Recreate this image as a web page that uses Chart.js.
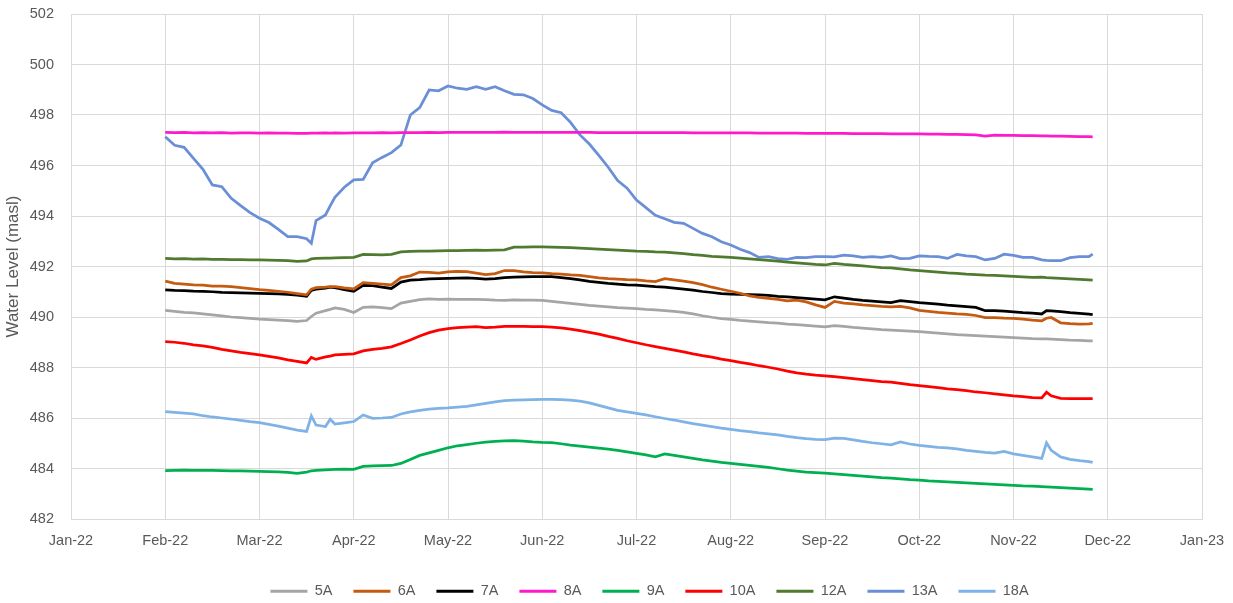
<!DOCTYPE html>
<html>
<head>
<meta charset="utf-8">
<script src="https://cdn.jsdelivr.net/npm/chart.js@4/dist/chart.umd.min.js"></script>
<style>
  body { margin: 0; background: #ffffff; }
</style>
</head>
<body>
<canvas id="levelChart" width="1233" height="603"></canvas>
<script>
// month index on the x axis: 0 = Jan-22 ... 12 = Jan-23
const monthLabels = ["Jan-22", "Feb-22", "Mar-22", "Apr-22", "May-22", "Jun-22", "Jul-22",
                     "Aug-22", "Sep-22", "Oct-22", "Nov-22", "Dec-22", "Jan-23"];

const monthPos = [
  1.0, 1.1, 1.2, 1.3, 1.4, 1.5, 1.6, 1.7, 1.8, 1.9,
  2.0, 2.1, 2.2, 2.3, 2.4, 2.5, 2.55, 2.6, 2.7, 2.75, 2.8, 2.9,
  3.0, 3.1, 3.2, 3.3, 3.4, 3.5, 3.6, 3.7, 3.8, 3.9,
  4.0, 4.1, 4.2, 4.3, 4.4, 4.5, 4.6, 4.7, 4.8, 4.9,
  5.0, 5.1, 5.2, 5.3, 5.4, 5.5, 5.6, 5.7, 5.8, 5.9,
  6.0, 6.1, 6.2, 6.3, 6.4, 6.5, 6.6, 6.7, 6.8, 6.9,
  7.0, 7.1, 7.2, 7.3, 7.4, 7.5, 7.6, 7.7, 7.8, 7.9,
  8.0, 8.1, 8.2, 8.3, 8.4, 8.5, 8.6, 8.7, 8.8, 8.9,
  9.0, 9.1, 9.2, 9.3, 9.4, 9.5, 9.6, 9.7, 9.8, 9.9,
  10.0, 10.1, 10.2, 10.3, 10.35, 10.4, 10.5, 10.6, 10.7, 10.8, 10.84
];

const wl5A = [
  490.26, 490.22, 490.18, 490.16, 490.12, 490.08, 490.04, 490.00, 489.98, 489.95,
  489.92, 489.90, 489.88, 489.86, 489.83, 489.86, 490.02, 490.15, 490.25, 490.30, 490.36, 490.30,
  490.18, 490.38, 490.40, 490.37, 490.33, 490.55, 490.62, 490.69, 490.72, 490.70,
  490.71, 490.70, 490.70, 490.70, 490.69, 490.67, 490.66, 490.68, 490.67, 490.67,
  490.66, 490.62, 490.58, 490.54, 490.50, 490.46, 490.43, 490.40, 490.37, 490.35,
  490.33, 490.30, 490.28, 490.25, 490.22, 490.18, 490.12, 490.05, 489.99, 489.94,
  489.91, 489.87, 489.84, 489.81, 489.78, 489.76, 489.72, 489.70, 489.67, 489.64,
  489.61, 489.66, 489.63, 489.59, 489.56, 489.53, 489.50, 489.48, 489.46, 489.44,
  489.42, 489.39, 489.36, 489.33, 489.30, 489.28, 489.26, 489.24, 489.22, 489.20,
  489.18, 489.16, 489.14, 489.13, 489.13, 489.12, 489.10, 489.08, 489.07, 489.05, 489.05
];

const wl6A = [
  491.42, 491.33, 491.30, 491.27, 491.26, 491.22, 491.22, 491.20, 491.16, 491.12,
  491.08, 491.05, 491.02, 490.98, 490.93, 490.88, 491.10, 491.16, 491.18, 491.20, 491.20, 491.15,
  491.11, 491.36, 491.33, 491.30, 491.27, 491.56, 491.63, 491.78, 491.77, 491.74,
  491.79, 491.81, 491.80, 491.74, 491.68, 491.72, 491.84, 491.84, 491.79, 491.76,
  491.75, 491.72, 491.70, 491.67, 491.65, 491.60, 491.55, 491.52, 491.50, 491.48,
  491.47, 491.43, 491.40, 491.52, 491.47, 491.42, 491.36, 491.28, 491.18, 491.10,
  491.02, 490.94, 490.84, 490.78, 490.74, 490.70, 490.64, 490.67, 490.60, 490.48,
  490.38, 490.62, 490.55, 490.52, 490.48, 490.45, 490.42, 490.40, 490.42, 490.36,
  490.26, 490.22, 490.18, 490.15, 490.12, 490.10, 490.06, 489.98, 489.98, 489.96,
  489.95, 489.92, 489.88, 489.85, 489.95, 489.98, 489.77, 489.74, 489.72, 489.73, 489.75
];

const wl7A = [
  491.07, 491.05, 491.04, 491.02, 491.01, 491.00, 490.98, 490.97, 490.96, 490.95,
  490.94, 490.93, 490.92, 490.90, 490.87, 490.82, 491.05, 491.10, 491.14, 491.18, 491.16, 491.08,
  491.02, 491.25, 491.24, 491.18, 491.13, 491.38, 491.46, 491.48, 491.51, 491.52,
  491.53, 491.54, 491.55, 491.53, 491.50, 491.52, 491.56, 491.58, 491.59, 491.60,
  491.60, 491.60, 491.56, 491.52, 491.47, 491.41, 491.37, 491.33, 491.30, 491.27,
  491.26, 491.23, 491.20, 491.18, 491.14, 491.10, 491.06, 491.01, 490.97, 490.93,
  490.91, 490.90, 490.89, 490.88, 490.86, 490.82, 490.80, 490.77, 490.74, 490.71,
  490.68, 490.80, 490.75, 490.70, 490.66, 490.63, 490.60, 490.57, 490.65, 490.61,
  490.57, 490.54, 490.51, 490.47, 490.44, 490.41, 490.38, 490.25, 490.25, 490.23,
  490.20, 490.17, 490.15, 490.12, 490.25, 490.24, 490.21, 490.17, 490.14, 490.11, 490.09
];

const wl8A = [
  497.31, 497.30, 497.31, 497.29, 497.30, 497.29, 497.30, 497.28, 497.29, 497.29,
  497.28, 497.29, 497.28, 497.28, 497.27, 497.27, 497.28, 497.28, 497.29, 497.28, 497.29, 497.28,
  497.29, 497.29, 497.29, 497.30, 497.29, 497.30, 497.30, 497.30, 497.31, 497.30,
  497.31, 497.31, 497.31, 497.31, 497.31, 497.31, 497.32, 497.31, 497.31, 497.31,
  497.31, 497.31, 497.31, 497.31, 497.31, 497.31, 497.30, 497.30, 497.30, 497.30,
  497.30, 497.30, 497.30, 497.30, 497.30, 497.30, 497.29, 497.29, 497.29, 497.29,
  497.29, 497.29, 497.29, 497.28, 497.28, 497.28, 497.28, 497.28, 497.27, 497.27,
  497.27, 497.27, 497.27, 497.26, 497.26, 497.26, 497.26, 497.25, 497.25, 497.25,
  497.25, 497.24, 497.24, 497.23, 497.23, 497.22, 497.21, 497.16, 497.20, 497.19,
  497.19, 497.18, 497.18, 497.17, 497.17, 497.16, 497.16, 497.15, 497.14, 497.14, 497.13
];

const wl9A = [
  483.92, 483.93, 483.94, 483.93, 483.93, 483.93, 483.92, 483.91, 483.91, 483.90,
  483.89, 483.88, 483.87, 483.85, 483.81, 483.86, 483.91, 483.93, 483.95, 483.96, 483.97, 483.98,
  483.97, 484.08, 484.10, 484.11, 484.12, 484.20, 484.36, 484.52, 484.62, 484.72,
  484.82, 484.90, 484.95, 485.00, 485.04, 485.07, 485.09, 485.10, 485.08, 485.05,
  485.03, 485.02, 484.98, 484.93, 484.89, 484.85, 484.81, 484.77, 484.72, 484.66,
  484.60, 484.54, 484.46, 484.58, 484.52, 484.46, 484.40, 484.34, 484.29, 484.24,
  484.20, 484.16, 484.12, 484.08, 484.04, 483.99, 483.94, 483.90, 483.86, 483.84,
  483.82, 483.79, 483.76, 483.73, 483.70, 483.67, 483.64, 483.62, 483.59, 483.56,
  483.54, 483.51, 483.49, 483.47, 483.45, 483.43, 483.41, 483.39, 483.37, 483.35,
  483.33, 483.31, 483.30, 483.28, 483.27, 483.26, 483.24, 483.22, 483.20, 483.18, 483.17
];

const wl10A = [
  489.02, 489.00, 488.96, 488.90, 488.86, 488.80, 488.72, 488.66, 488.60, 488.55,
  488.50, 488.44, 488.38, 488.30, 488.24, 488.18, 488.40, 488.32, 488.42, 488.45, 488.50, 488.52,
  488.54, 488.66, 488.72, 488.76, 488.82, 488.95, 489.09, 489.25, 489.38, 489.48,
  489.54, 489.58, 489.60, 489.62, 489.58, 489.60, 489.63, 489.63, 489.63, 489.62,
  489.62, 489.60, 489.57, 489.52, 489.46, 489.39, 489.32, 489.23, 489.15, 489.06,
  488.98, 488.90, 488.83, 488.76, 488.69, 488.62, 488.54, 488.47, 488.41, 488.33,
  488.27, 488.20, 488.14, 488.07, 488.01, 487.94, 487.86, 487.79, 487.74, 487.70,
  487.67, 487.64, 487.60, 487.56, 487.52, 487.48, 487.44, 487.42, 487.37, 487.32,
  487.28, 487.24, 487.20, 487.15, 487.12, 487.08, 487.03, 487.00, 486.96, 486.92,
  486.88, 486.85, 486.81, 486.80, 487.02, 486.88, 486.78, 486.77, 486.77, 486.77, 486.77
];

const wl12A = [
  492.32, 492.30, 492.31, 492.29, 492.30, 492.28, 492.28, 492.27, 492.27, 492.26,
  492.26, 492.25, 492.24, 492.23, 492.20, 492.22, 492.30, 492.32, 492.33, 492.33, 492.34, 492.35,
  492.36, 492.48, 492.47, 492.46, 492.48, 492.58, 492.60, 492.61, 492.61, 492.62,
  492.63, 492.63, 492.64, 492.65, 492.64, 492.65, 492.66, 492.77, 492.77, 492.78,
  492.78, 492.77, 492.76, 492.75, 492.73, 492.71, 492.69, 492.67, 492.65, 492.63,
  492.61, 492.60, 492.58, 492.57, 492.54, 492.51, 492.47, 492.44, 492.40, 492.38,
  492.36, 492.33, 492.30, 492.27, 492.24, 492.21, 492.17, 492.14, 492.11, 492.08,
  492.06, 492.12, 492.08, 492.05, 492.02, 491.99, 491.96, 491.95, 491.91, 491.87,
  491.84, 491.81, 491.78, 491.75, 491.73, 491.70, 491.68, 491.66, 491.65, 491.63,
  491.61, 491.59, 491.57, 491.58, 491.56, 491.55, 491.53, 491.51, 491.49, 491.47, 491.46
];

const wl13A = [
  497.14, 496.80, 496.72, 496.28, 495.85, 495.23, 495.16, 494.70, 494.41, 494.13,
  493.91, 493.74, 493.47, 493.18, 493.18, 493.10, 492.92, 493.82, 494.04, 494.40, 494.74, 495.14,
  495.43, 495.45, 496.11, 496.32, 496.51, 496.81, 498.00, 498.29, 498.99, 498.96,
  499.15, 499.06, 499.02, 499.12, 499.02, 499.12, 498.96, 498.82, 498.80, 498.65,
  498.40, 498.18, 498.09, 497.71, 497.21, 496.85, 496.40, 495.93, 495.40, 495.10,
  494.63, 494.33, 494.03, 493.89, 493.75, 493.71, 493.51, 493.31, 493.18, 492.98,
  492.85, 492.68, 492.55, 492.36, 492.39, 492.31, 492.28, 492.36, 492.35, 492.39,
  492.39, 492.38, 492.45, 492.42, 492.36, 492.39, 492.36, 492.42, 492.31, 492.32,
  492.42, 492.40, 492.39, 492.32, 492.48, 492.42, 492.39, 492.26, 492.32, 492.49,
  492.44, 492.36, 492.36, 492.26, 492.24, 492.23, 492.23, 492.35, 492.39, 492.39, 492.49
];

const wl18A = [
  486.25, 486.22, 486.19, 486.16, 486.09, 486.04, 486.00, 485.96, 485.91, 485.86,
  485.82, 485.75, 485.68, 485.60, 485.52, 485.47, 486.08, 485.72, 485.66, 485.95, 485.76, 485.81,
  485.86, 486.12, 485.99, 486.00, 486.02, 486.16, 486.24, 486.30, 486.35, 486.38,
  486.40, 486.43, 486.46, 486.52, 486.58, 486.64, 486.69, 486.71, 486.72, 486.73,
  486.74, 486.74, 486.73, 486.71, 486.67, 486.60, 486.50, 486.40, 486.30, 486.24,
  486.18, 486.12, 486.05, 485.98, 485.92, 485.85, 485.78, 485.72, 485.66, 485.60,
  485.55, 485.50, 485.46, 485.41, 485.37, 485.33, 485.27, 485.22, 485.18, 485.15,
  485.14, 485.20, 485.19, 485.13, 485.07, 485.02, 484.98, 484.94, 485.05, 484.97,
  484.92, 484.88, 484.84, 484.82, 484.78, 484.72, 484.68, 484.64, 484.61, 484.68,
  484.58, 484.52, 484.46, 484.40, 485.02, 484.72, 484.46, 484.36, 484.31, 484.27, 484.24
];

const seriesNames = ["5A", "6A", "7A", "8A", "9A", "10A", "12A", "13A", "18A"];
const seriesValues = [wl5A, wl6A, wl7A, wl8A, wl9A, wl10A, wl12A, wl13A, wl18A];
const seriesColors = ["#A5A5A5", "#C55A11", "#000000", "#FF19CC", "#00B050",
                      "#FF0000", "#4F7A2F", "#6A8FD6", "#7FB2E5"];

const fontFamily = "'Liberation Sans', Arial, sans-serif";
const axisFont = { family: fontFamily, size: 14.5 };
const gridGrey = "#d9d9d9";

// the legend in the original sits a bit right of the canvas centre
const legendShift = {
  id: 'legendShift',
  afterLayout(chart) {
    chart.legend.left += 97;
  }
};

new Chart(document.getElementById("levelChart"), {
  type: 'line',
  data: {
    datasets: seriesNames.map((name, i) => ({
      label: name,
      data: monthPos.map((m, j) => ({ x: m, y: seriesValues[i][j] })),
      borderColor: seriesColors[i],
      backgroundColor: seriesColors[i],
      borderWidth: 2.75,
      pointRadius: 0,
      tension: 0,
      fill: false
    }))
  },
  options: {
    responsive: false,
    animation: false,
    layout: { padding: { top: 14, right: 31, left: 0, bottom: 0 } },
    scales: {
      x: {
        type: 'linear',
        min: 0,
        max: 12,
        ticks: {
          stepSize: 1,
          autoSkip: false,
          maxRotation: 0,
          padding: 0,
          color: "#595959",
          font: axisFont,
          callback: v => monthLabels[Math.round(v)]
        },
        // invisible tick marks push the labels away from the axis
        grid: { color: gridGrey, tickLength: 13, tickColor: 'rgba(0,0,0,0)' },
        border: { color: gridGrey },
        afterFit: s => { s.height = 44; }
      },
      y: {
        min: 482,
        max: 502,
        ticks: { stepSize: 2, padding: 0, color: "#595959", font: axisFont },
        grid: { color: gridGrey, tickLength: 17, tickColor: 'rgba(0,0,0,0)' },
        border: { color: gridGrey },
        title: {
          display: true,
          text: 'Water Level (masl)',
          color: "#595959",
          font: { family: fontFamily, size: 17 },
          padding: { top: 3, bottom: 0 }
        },
        afterFit: s => { s.width = 71; }
      }
    },
    plugins: {
      legend: {
        position: 'bottom',
        maxHeight: 40,
        labels: {
          boxWidth: 37,
          boxHeight: 3,
          padding: 21,
          color: "#595959",
          font: axisFont,
          generateLabels: chart =>
            Chart.defaults.plugins.legend.labels.generateLabels(chart).map(l => ({ ...l, lineWidth: 0 }))
        }
      },
      tooltip: { enabled: false }
    }
  },
  plugins: [legendShift]
});
</script>
</body>
</html>
